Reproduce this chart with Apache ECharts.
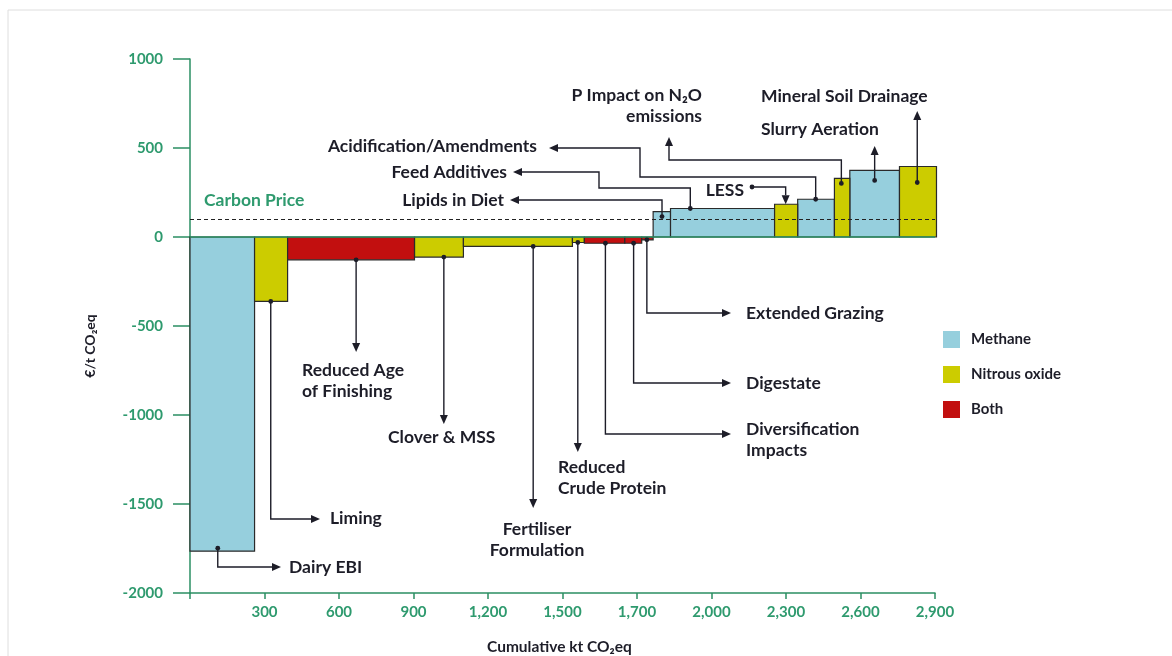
<!DOCTYPE html>
<html>
<head>
<meta charset="utf-8">
<script src="https://cdn.jsdelivr.net/npm/echarts@6/dist/echarts.min.js"></script>
<style>
html, body { margin: 0; padding: 0; background: #fff; }
#chart { width: 1172px; height: 656px; }
</style>
</head>
<body>
<div id="chart"></div>
<script>
// measures in the order they sit on the curve
const measures = [
  'Dairy EBI', 'Liming', 'Reduced Age of Finishing', 'Clover & MSS',
  'Fertiliser Formulation', 'Reduced Crude Protein', 'Diversification Impacts',
  'Digestate', 'Extended Grazing', 'Lipids in Diet', 'Feed Additives', 'LESS',
  'Acidification/Amendments', 'P Impact on N2O emissions', 'Slurry Aeration',
  'Mineral Soil Drainage'
];
// abatement (kt CO2eq) = bar width
const abatement = [260, 133, 511, 197, 439, 48, 163, 68, 46, 70, 419, 93, 148, 62, 200, 149];
// cost (EUR / t CO2eq) = bar height
const cost = [-1765, -362, -128, -113, -53, -31, -35, -35, -16, 143, 160, 184, 212, 329, 374, 396];
const gas = [
  'Methane', 'Nitrous oxide', 'Both', 'Nitrous oxide', 'Nitrous oxide', 'Nitrous oxide',
  'Both', 'Both', 'Both', 'Methane', 'Methane', 'Nitrous oxide', 'Methane',
  'Nitrous oxide', 'Methane', 'Nitrous oxide'
];
const gasNames = ['Methane', 'Nitrous oxide', 'Both'];
const xTickLabels = ['', '300', '600', '900', '1,200', '1,500', '1,700', '2,000', '2,300', '2,600', '2,900'];
const carbonPrice = 100;

const colors = { 'Methane': '#96cfdd', 'Nitrous oxide': '#cccc00', 'Both': '#c20f0f' };
const green = '#2b8f63';
const ink = '#1d1d28';
const noteFont = 'bold 17.5px Lato, "Noto Sans", sans-serif';

// leader lines: fx = where on the bar the leader starts, the rest is page layout (px)
const notes = [
  { fx: 0.43, dy: -3, pts: [[null, 567], [281, 567]], text: 'Dairy EBI', tx: 289, ty: 567 },
  { fx: 0.49, pts: [[null, 519], [320, 519]], text: 'Liming', tx: 330, ty: 518 },
  { fx: 0.54, pts: [[null, 352]], text: 'Reduced Age\nof Finishing', tx: 302, ty: 381 },
  { fx: 0.60, pts: [[null, 424]], text: 'Clover & MSS', tx: 388, ty: 437 },
  { fx: 0.64, pts: [[null, 508]], text: 'Fertiliser\nFormulation', tx: 537, ty: 540, align: 'center' },
  { fx: 0.45, pts: [[null, 452]], text: 'Reduced\nCrude Protein', tx: 558, ty: 478 },
  { fx: 0.52, pts: [[null, 434], [731, 434]], text: 'Diversification\nImpacts', tx: 746, ty: 440 },
  { fx: 0.52, pts: [[null, 383], [731, 383]], text: 'Digestate', tx: 746, ty: 383 },
  { fx: 0.45, pts: [[null, 313], [731, 313]], text: 'Extended Grazing', tx: 746, ty: 313 },
  { fx: 0.51, dy: 5, pts: [[null, 200], [510, 200]], text: 'Lipids in Diet', tx: 504, ty: 200, align: 'right' },
  { fx: 0.19, pts: [[null, 188], [599, 188], [599, 172], [513, 172]], text: 'Feed Additives', tx: 507, ty: 172, align: 'right' },
  { fx: 0.48, rev: true, pts: [[752, 187], [null, 187]], text: 'LESS', tx: 744, ty: 190, align: 'right' },
  { fx: 0.49, pts: [[null, 177], [640, 177], [640, 148], [549, 148]], text: 'Acidification/Amendments', tx: 537, ty: 146, align: 'right' },
  { fx: 0.45, dy: 5, pts: [[null, 160], [669, 160], [669, 137]], text: 'P Impact on N\u2082O\nemissions', tx: 702, ty: 106, align: 'right' },
  { fx: 0.50, dy: 10, pts: [[null, 146]], text: 'Slurry Aeration', tx: 761, ty: 129 },
  { fx: 0.48, dy: 16, pts: [[null, 111]], text: 'Mineral Soil Drainage', tx: 761, ty: 96 }
];

let acc = 0;
const blocks = measures.map(function (m, i) {
  const s = acc;
  acc += abatement[i];
  return [s, acc, cost[i], i];
});

function renderBar(params, api) {
  const p0 = api.coord([api.value(0), 0]);
  const p1 = api.coord([api.value(1), api.value(2)]);
  return {
    type: 'rect',
    shape: { x: p0[0], y: Math.min(p0[1], p1[1]), width: p1[0] - p0[0], height: Math.abs(p1[1] - p0[1]) },
    style: { fill: api.visual('color'), stroke: '#2a2a2a', lineWidth: 1.2 }
  };
}

function renderNote(params, api) {
  const n = notes[api.value(3)];
  const s = api.value(0), e = api.value(1), v = api.value(2);
  const a = api.coord([s + (e - s) * n.fx, v]);
  const ax = a[0], ay = a[1] + (n.dy || 0);
  const pts = n.pts.map(function (p) { return [p[0] == null ? ax : p[0], p[1]]; });
  let line, dot;
  if (n.rev) { line = pts.concat([[ax, ay]]); dot = pts[0]; }
  else { line = [[ax, ay]].concat(pts); dot = [ax, ay]; }
  const tip = line[line.length - 1], prev = line[line.length - 2];
  const ang = Math.atan2(tip[1] - prev[1], tip[0] - prev[0]);
  const L = 9, W = 4;
  const bx = tip[0] - L * Math.cos(ang), by = tip[1] - L * Math.sin(ang);
  const head = [tip.slice(), [bx - W * Math.sin(ang), by + W * Math.cos(ang)], [bx + W * Math.sin(ang), by - W * Math.cos(ang)]];
  line[line.length - 1] = [bx, by];
  return {
    type: 'group',
    children: [
      { type: 'polyline', shape: { points: line }, style: { stroke: ink, lineWidth: 1.4, fill: null } },
      { type: 'polygon', shape: { points: head }, style: { fill: ink } },
      { type: 'circle', shape: { cx: dot[0], cy: dot[1], r: 2.4 }, style: { fill: ink } },
      {
        type: 'text',
        style: {
          text: n.text, x: n.tx, y: n.ty,
          align: n.align || 'left', textAlign: n.align || 'left',
          verticalAlign: 'middle', textVerticalAlign: 'middle',
          font: noteFont, fill: ink, lineHeight: 21
        }
      }
    ]
  };
}

const series = gasNames.map(function (g) {
  return {
    name: g,
    type: 'custom',
    renderItem: renderBar,
    itemStyle: { color: colors[g] },
    encode: { x: [0, 1], y: 2 },
    data: blocks.filter(function (b) { return gas[b[3]] === g; }),
    z: 2
  };
});

series.push({
  name: 'notes',
  type: 'custom',
  renderItem: renderNote,
  encode: { x: [0, 1], y: 2 },
  data: blocks,
  z: 5,
  silent: true,
  markLine: {
    silent: true,
    symbol: 'none',
    data: [
      { yAxis: 0, lineStyle: { color: green, width: 1.5, type: 'solid' }, label: { show: false } },
      {
        yAxis: carbonPrice,
        lineStyle: { color: '#222', width: 1.2, type: [4, 3] },
        label: {
          show: true, position: 'insideStartTop', formatter: 'Carbon Price', distance: [14, 10],
          color: '#2e9a6e', fontFamily: 'Lato', fontWeight: 'bold', fontSize: 17.5
        }
      }
    ]
  }
});

const chart = echarts.init(document.getElementById('chart'));
chart.setOption({
  animation: false,
  backgroundColor: '#fff',
  grid: { left: 190, right: 237, top: 59, bottom: 63 },
  xAxis: {
    type: 'value', min: 0, max: 3000, interval: 300,
    axisLine: { onZero: false, lineStyle: { color: green, width: 1.5 } },
    axisTick: { length: 6, lineStyle: { color: green, width: 1.5 } },
    axisLabel: {
      margin: 12, color: '#2e9a6e', fontFamily: 'Lato', fontWeight: 'bold', fontSize: 15,
      formatter: function (v) { return xTickLabels[Math.round(v / 300)]; }
    },
    splitLine: { show: false }
  },
  yAxis: {
    type: 'value', min: -2000, max: 1000, interval: 500,
    axisLine: { show: true, onZero: false, lineStyle: { color: green, width: 1.5 } },
    axisTick: { show: true, length: 17, lineStyle: { color: green, width: 1.5 } },
    axisLabel: {
      margin: 27, color: '#2e9a6e', fontFamily: 'Lato', fontWeight: 'bold', fontSize: 15,
      formatter: function (v) { return String(v); }
    },
    splitLine: { show: false }
  },
  legend: {
    data: gasNames, orient: 'vertical', left: 938, top: 326,
    icon: 'rect', itemWidth: 17, itemHeight: 17, itemGap: 18,
    textStyle: { color: ink, fontFamily: 'Lato', fontWeight: 'bold', fontSize: 15, padding: [0, 0, 0, 6] }
  },
  graphic: [
    { type: 'rect', silent: true, z: -1, shape: { x: 8, y: 10, width: 1300, height: 800 }, style: { fill: null, stroke: '#dedede', lineWidth: 1 } },
    {
      type: 'text', left: 487, top: 639,
      style: { text: 'Cumulative kt CO\u2082eq', font: 'bold 15.5px Lato, "Noto Sans", sans-serif', fill: ink }
    },
    {
      type: 'text', x: 90, y: 346, rotation: Math.PI / 2,
      style: { text: '\u20ac/t CO\u2082eq', font: 'bold 14px Lato, "Noto Sans", sans-serif', fill: ink, align: 'center', textAlign: 'center', verticalAlign: 'middle', textVerticalAlign: 'middle' }
    }
  ],
  series: series
});
</script>
</body>
</html>
